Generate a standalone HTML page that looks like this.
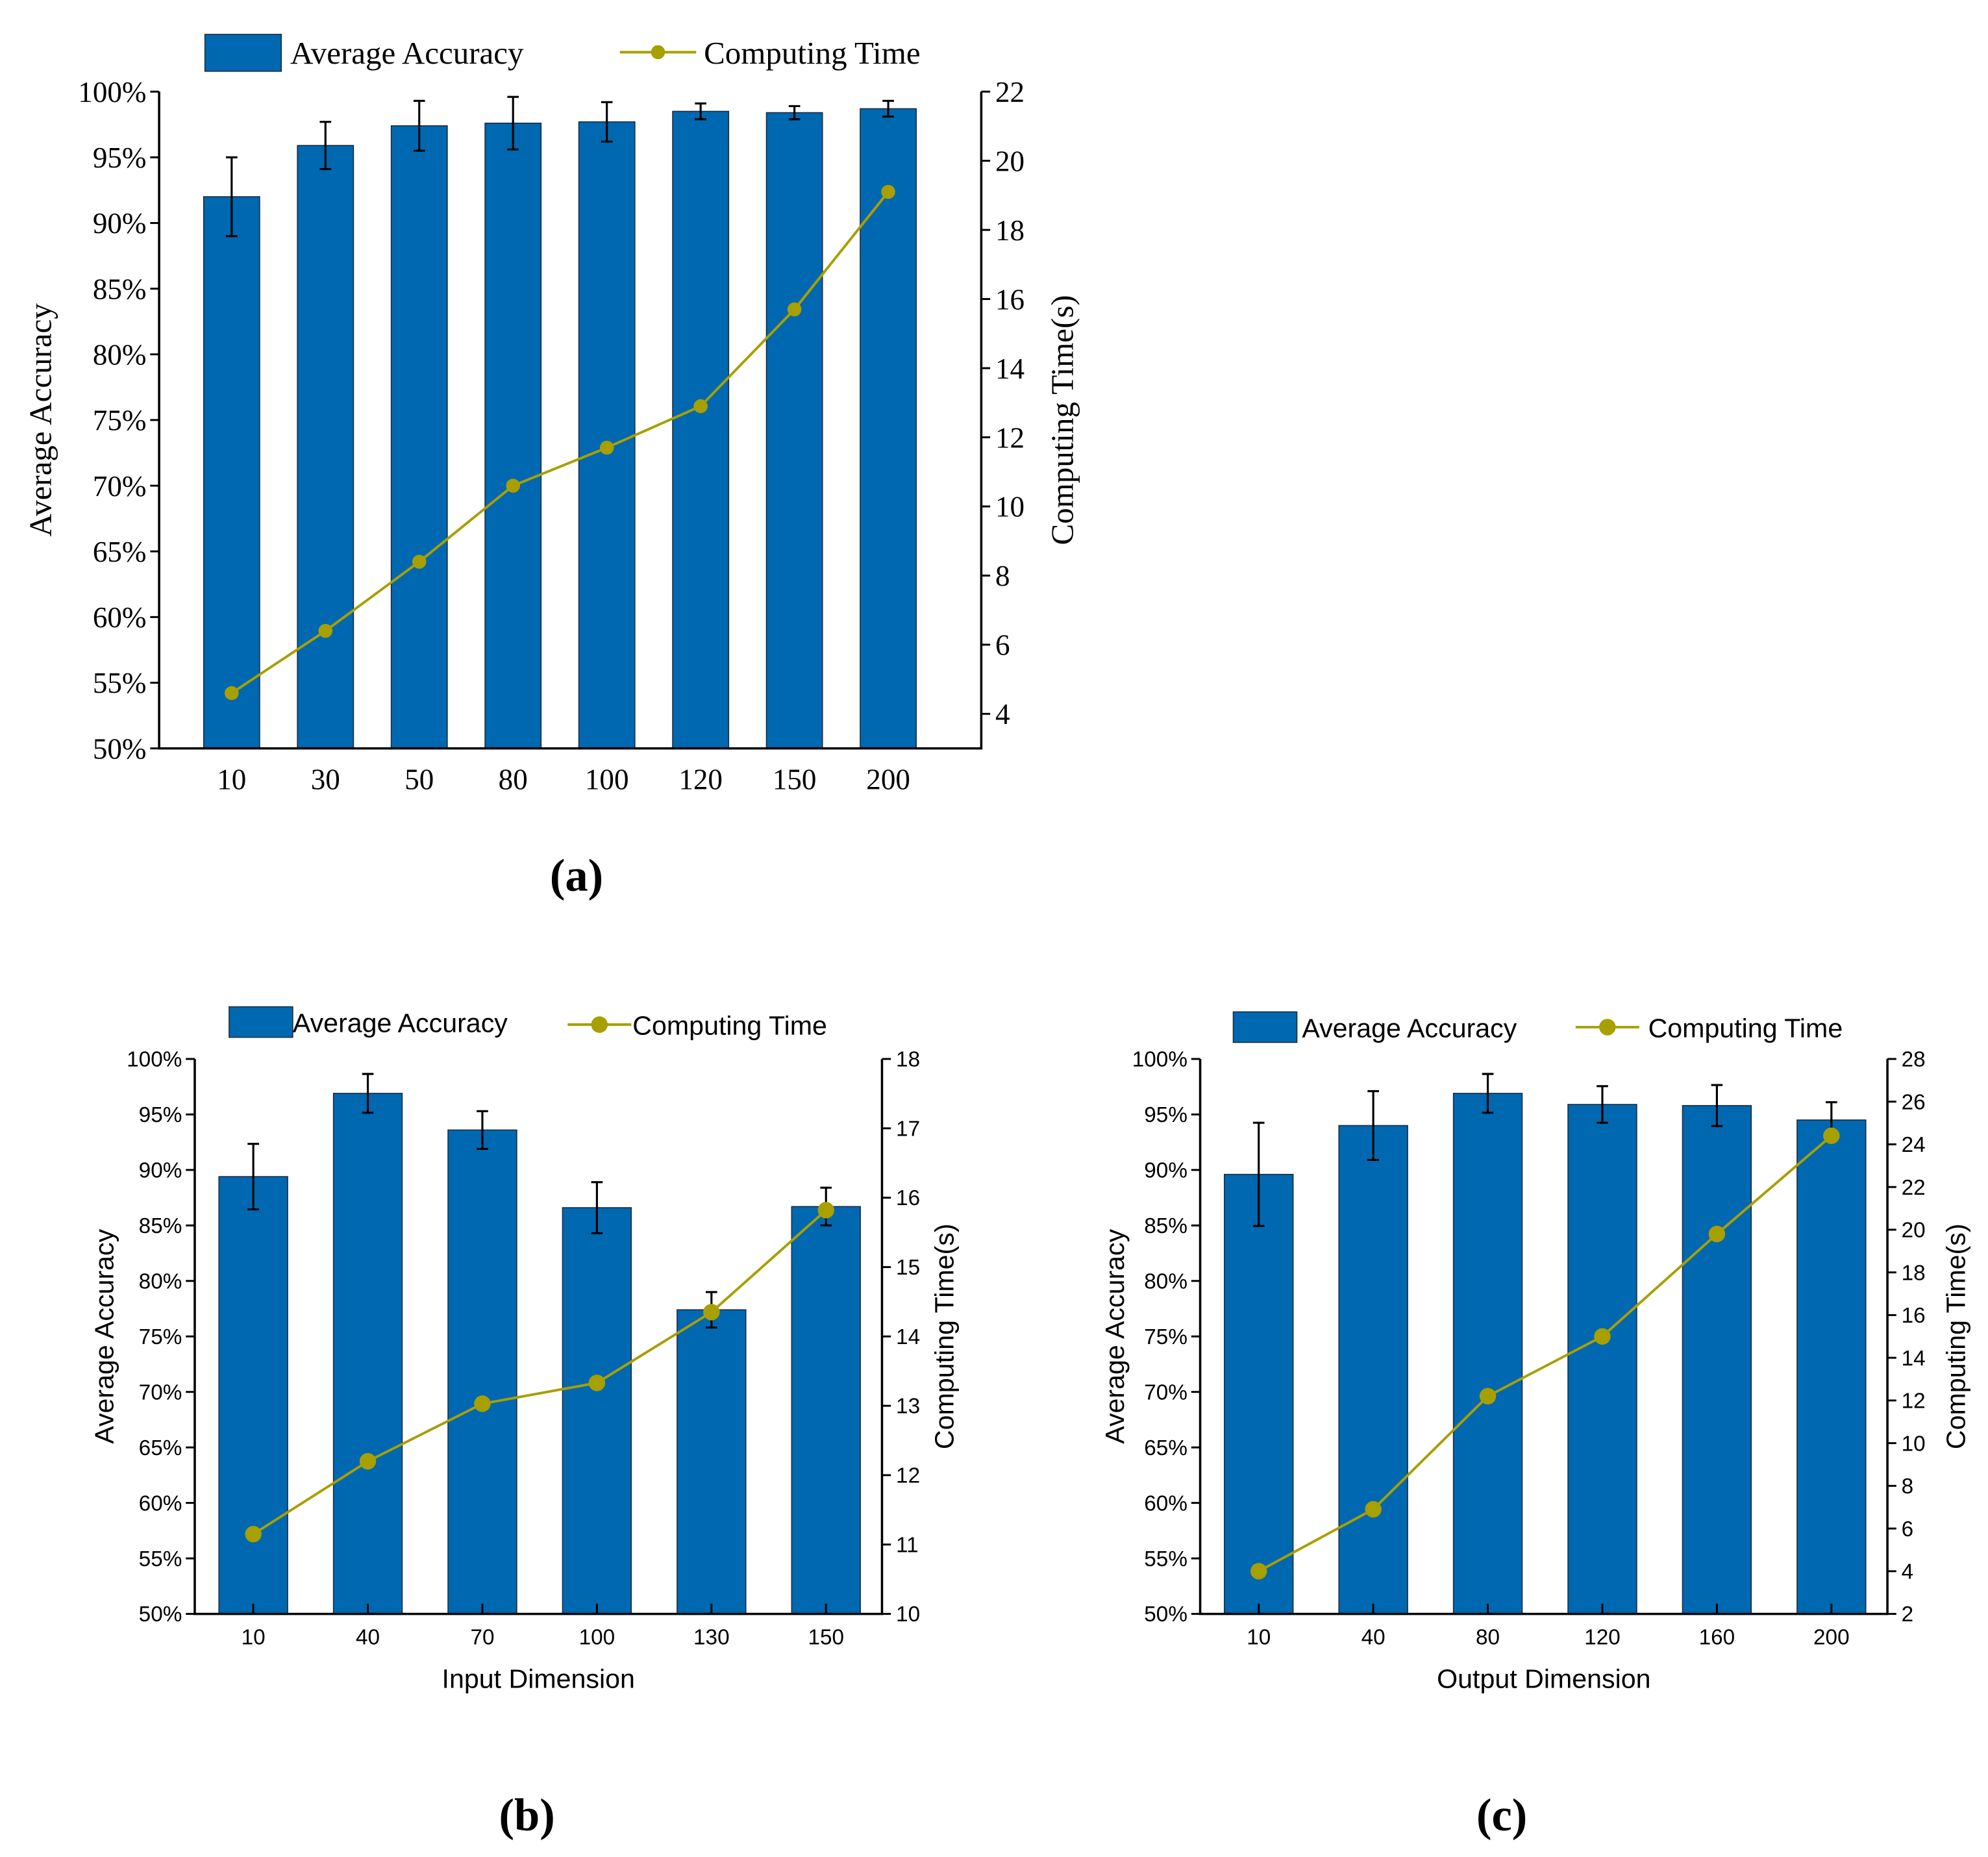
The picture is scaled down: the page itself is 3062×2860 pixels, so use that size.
<!DOCTYPE html>
<html><head><meta charset="utf-8">
<style>
html,body{margin:0;padding:0;background:#fff;}
svg{display:block;}
</style></head>
<body>
<svg id="fig" xmlns="http://www.w3.org/2000/svg" width="3062" height="2860" viewBox="0 0 1562 1459"></svg>
<script>
// Panel (a)
const catsA = ["10","30","50","80","100","120","150","200"];
const accA = [92.0, 95.9, 97.4, 97.6, 97.7, 98.5, 98.4, 98.7];
const errA = [3.0, 1.8, 1.9, 2.0, 1.5, 0.6, 0.5, 0.6];
const timeA = [4.6, 6.4, 8.4, 10.6, 11.7, 12.9, 15.7, 19.1];
const accTicksA = [50,55,60,65,70,75,80,85,90,95,100];
const timeTicksA = [4,6,8,10,12,14,16,18,20,22];
// Panel (b)
const catsB = ["10","40","70","100","130","150"];
const accB = [89.4, 96.9, 93.6, 86.6, 77.4, 86.7];
const errB = [2.95, 1.75, 1.7, 2.3, 1.6, 1.7];
const timeB = [11.15, 12.2, 13.03, 13.33, 14.35, 15.82];
const accTicksB = [50,55,60,65,70,75,80,85,90,95,100];
const timeTicksB = [10,11,12,13,14,15,16,17,18];
// Panel (c)
const catsC = ["10","40","80","120","160","200"];
const accC = [89.6, 94.0, 96.9, 95.9, 95.8, 94.5];
const errC = [4.65, 3.1, 1.75, 1.65, 1.85, 1.6];
const timeC = [4.0, 6.9, 12.2, 15.0, 19.8, 24.4];
const accTicksC = [50,55,60,65,70,75,80,85,90,95,100];
const timeTicksC = [2,4,6,8,10,12,14,16,18,20,22,24,26,28];

const NS = "http://www.w3.org/2000/svg";
const svg = document.getElementById("fig");
function mk(tag, attrs, parent, text){
  const e = document.createElementNS(NS, tag);
  for (const k in attrs) e.setAttribute(k, attrs[k]);
  if (text !== undefined) e.textContent = text;
  (parent||svg).appendChild(e);
  return e;
}
const BAR = "#0068b0", LINE = "#a89f00";

function panel(p){
  const g = mk("g", {});
  
  
  const yA = v => p.bottom - (v - 50) / 50 * (p.bottom - p.top);
  const yT = v => p.bottom - (v - p.tmin) / (p.tmax - p.tmin) * (p.bottom - p.top);
  const xC = i => p.x0 + i * p.dx;
  p.acc.forEach((v,i)=>{
    const r = mk("rect", {x:xC(i)-p.bw/2, y:yA(v), width:p.bw, height:p.bottom-yA(v), fill:BAR, stroke:"#1a2a40", "stroke-width":0.8}, g);
    
    
    const e = mk("path", {d:`M${xC(i)},${yA(v+p.err[i])}V${yA(v-p.err[i])}M${xC(i)-4.5},${yA(v+p.err[i])}h9M${xC(i)-4.5},${yA(v-p.err[i])}h9`, stroke:"#000", "stroke-width":1.6, fill:"none"}, g);
    
    
  });
  mk("path", {d:`M${p.left},${p.top}V${p.bottom}H${p.right}V${p.top}`, stroke:"#000", "stroke-width":1.8, fill:"none"}, g);
  p.accTicks.forEach(t=>{
    mk("line", {x1:p.left-7, x2:p.left, y1:yA(t), y2:yA(t), stroke:"#000", "stroke-width":1.5}, g);
    const lt = mk("text", {x:p.left-10, y:yA(t)+p.fs*0.35, "text-anchor":"end", "font-size":p.fs, "font-family":p.font}, g, t+"%");
    
    
  });
  p.timeTicks.forEach(t=>{
    mk("line", {x1:p.right, x2:p.right+7, y1:yT(t), y2:yT(t), stroke:"#000", "stroke-width":1.5}, g);
    const rt = mk("text", {x:p.right+11, y:yT(t)+p.fs*0.35, "text-anchor":"start", "font-size":p.fs, "font-family":p.font}, g, String(t));
    
    
  });
  p.cats.forEach((c,i)=>{
    if (p.xticks) mk("line", {x1:xC(i), x2:xC(i), y1:p.bottom-8, y2:p.bottom, stroke:"#000", "stroke-width":1.5}, g);
    const xt = mk("text", {x:xC(i), y:p.bottom+p.xlabOff, "text-anchor":"middle", "font-size":p.fs, "font-family":p.font}, g, c);
    
    
  });
  const pts = p.time.map((v,i)=>`${xC(i)},${yT(v)}`).join(" ");
  const pl = mk("polyline", {points:pts, fill:"none", stroke:LINE, "stroke-width":2}, g);
  
  
  p.time.forEach((v,i)=>{
    const c = mk("circle", {cx:xC(i), cy:yT(v), r:p.dr, fill:LINE}, g);
    
    
  });
  const lt = mk("text", {transform:`translate(${p.ltx},${(p.top+p.bottom)/2+p.ltdy}) rotate(-90)`, "text-anchor":"middle", "font-size":p.tfs, "font-family":p.font}, g, "Average Accuracy");
  
  
  const rt = mk("text", {transform:`translate(${p.rtx},${(p.top+p.bottom)/2+p.rtdy}) rotate(-90)`, "text-anchor":"middle", "font-size":p.tfs, "font-family":p.font}, g, "Computing Time(s)");
  
  
  if (p.xtitle){
    const xt = mk("text", {x:(p.left+p.right)/2, y:p.bottom+58, "text-anchor":"middle", "font-size":p.tfs, "font-family":p.font}, g, p.xtitle);
    
    
  }
  const L = p.leg;
  const lr = mk("rect", {x:L.rx, y:L.ry, width:L.rw, height:L.rh, fill:BAR, stroke:"#1a2a40", "stroke-width":0.8}, g);
  
  
  const l1 = mk("text", {x:L.t1x, y:L.ty, "font-size":L.fs, "font-family":p.font}, g, "Average Accuracy");
  
  
  mk("line", {x1:L.lx, x2:L.lx+L.lw, y1:L.ly, y2:L.ly, stroke:LINE, "stroke-width":2}, g);
  const lc = mk("circle", {cx:L.lx+L.lw/2, cy:L.ly, r:p.dr, fill:LINE}, g);
  
  
  const l2 = mk("text", {x:L.t2x, y:L.ty2, "font-size":L.fs, "font-family":p.font}, g, "Computing Time");
  
  
  const pl2 = mk("text", {x:p.labx, y:p.laby, "text-anchor":"middle", "font-size":36, "font-weight":"bold", "font-family":"'Liberation Serif', serif"}, g, p.label);
  
  
}

const SERIF = "'Liberation Serif', serif";
const SANS = "'Liberation Sans', sans-serif";

panel({name:"panel-a", cats:catsA, acc:accA, err:errA, time:timeA, accTicks:accTicksA, timeTicks:timeTicksA,
  left:125, right:771, top:72, bottom:588, tmin:3, tmax:22, x0:182, dx:73.7, bw:44, dr:5.5,
  font:SERIF, fs:23, tfs:25, xticks:false, xlabOff:32, ltx:40, ltdy:0, rtx:843, rtdy:0,
  leg:{rx:161, ry:27, rw:60, rh:29, t1x:228, ty:50, lx:487, lw:60, ly:41, t2x:553, ty2:50, fs:25},
  labx:453, laby:700, label:"(a)"});

panel({name:"panel-b", cats:catsB, acc:accB, err:errB, time:timeB, accTicks:accTicksB, timeTicks:timeTicksB,
  left:153, right:693, top:832, bottom:1268, tmin:10, tmax:18, x0:199, dx:90, bw:54, dr:6.5,
  font:SANS, fs:17, tfs:21, xticks:true, xlabOff:24, ltx:89, ltdy:0, rtx:749, rtdy:0, xtitle:"Input Dimension",
  leg:{rx:180, ry:791, rw:50, rh:24, t1x:230, ty:811, lx:446, lw:50, ly:805, t2x:497, ty2:813, fs:21},
  labx:414, laby:1438, label:"(b)"});

panel({name:"panel-c", cats:catsC, acc:accC, err:errC, time:timeC, accTicks:accTicksC, timeTicks:timeTicksC,
  left:943, right:1483, top:832, bottom:1268, tmin:2, tmax:28, x0:989, dx:90, bw:54, dr:6.5,
  font:SANS, fs:17, tfs:21, xticks:true, xlabOff:24, ltx:883, ltdy:0, rtx:1544, rtdy:0, xtitle:"Output Dimension",
  leg:{rx:969, ry:795, rw:50, rh:24, t1x:1023, ty:815, lx:1238, lw:50, ly:807, t2x:1295, ty2:815, fs:21},
  labx:1180, laby:1438, label:"(c)"});
</script>
</body></html>
